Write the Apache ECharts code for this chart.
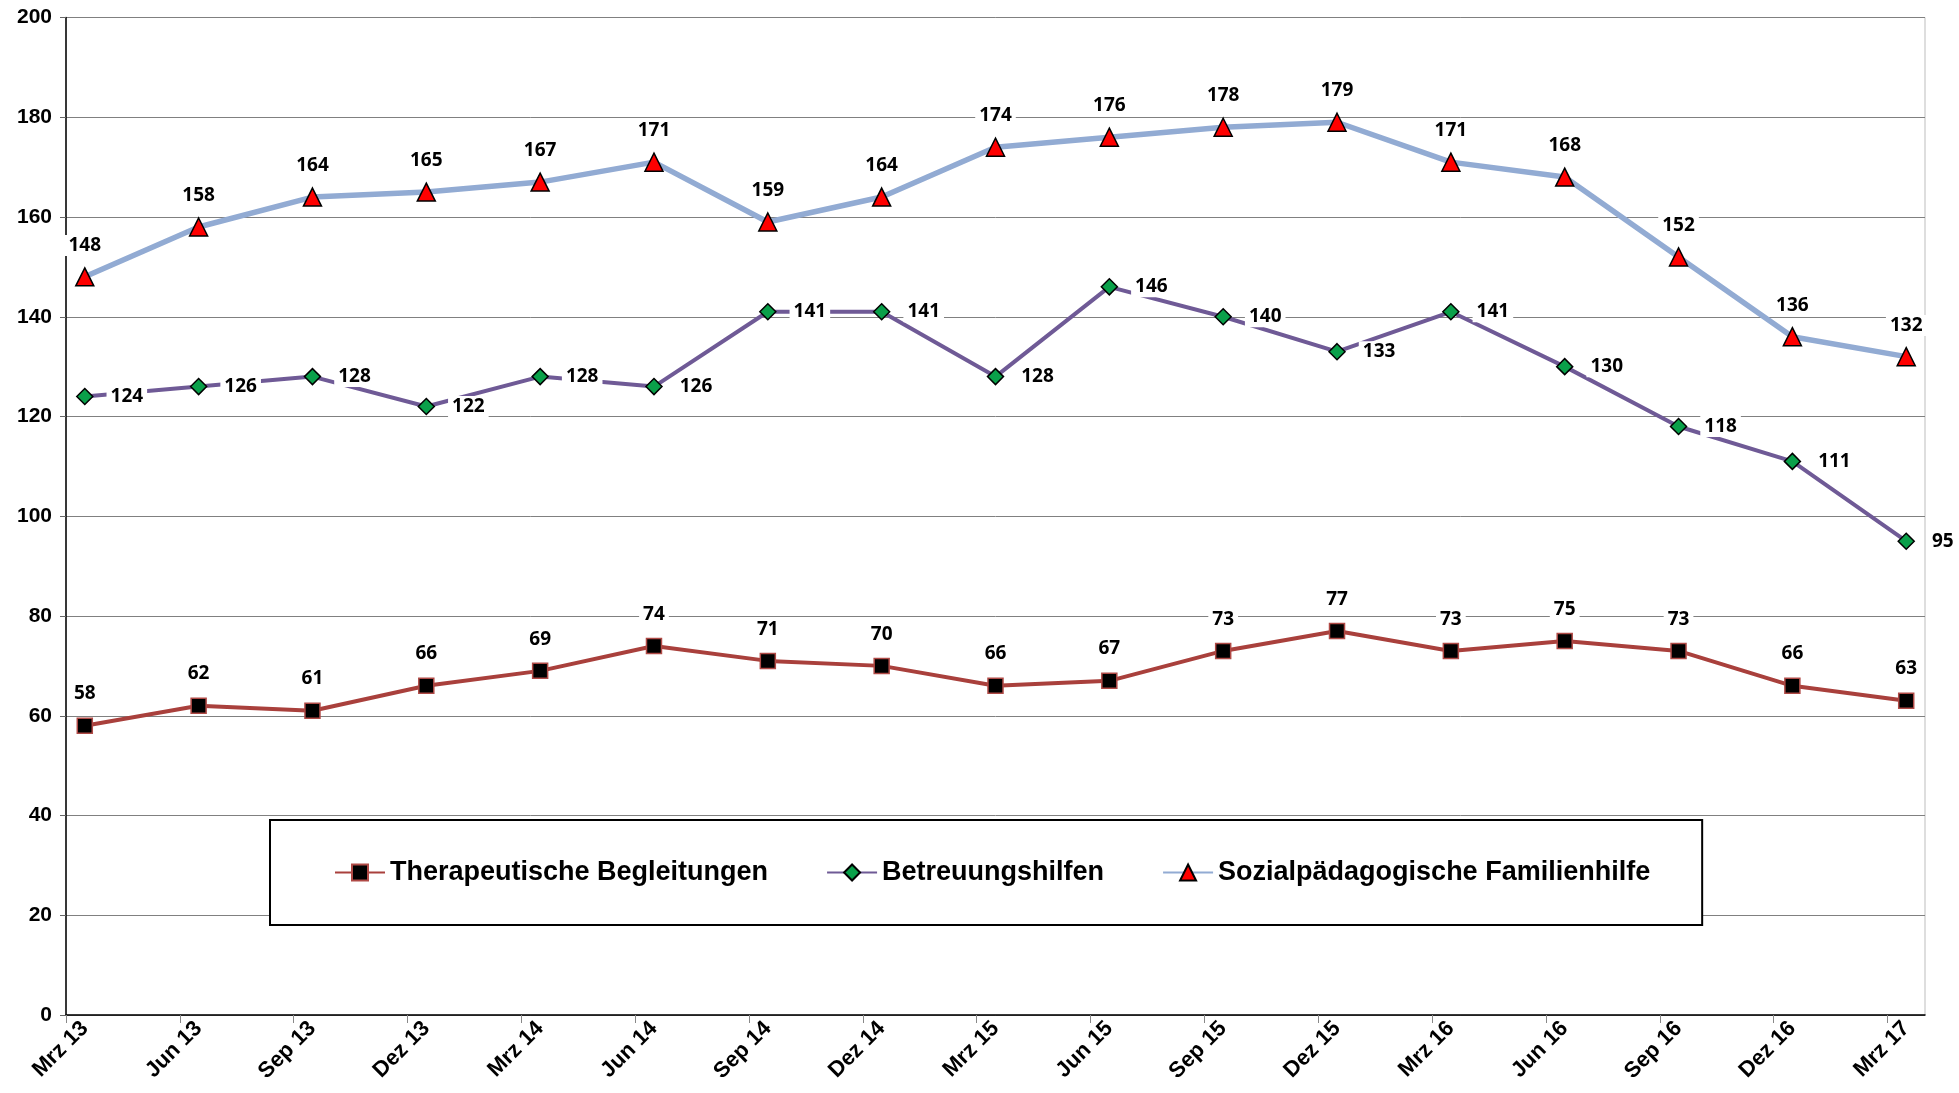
<!DOCTYPE html>
<html>
<head>
    <meta charset="utf-8">
    <title>Hilfen</title>
    <script src="https://cdn.jsdelivr.net/npm/echarts@6/dist/echarts.min.js"></script>
</head>
<body style="margin:0;background:#fff;">
<div id="main" style="width:1959px;height:1093px;"></div>
<script type="text/javascript">
    // Quartale
    var categories = ['Mrz 13', 'Jun 13', 'Sep 13', 'Dez 13', 'Mrz 14', 'Jun 14', 'Sep 14', 'Dez 14',
        'Mrz 15', 'Jun 15', 'Sep 15', 'Dez 15', 'Mrz 16', 'Jun 16', 'Sep 16', 'Dez 16', 'Mrz 17'];
    var therapeutisch = [58, 62, 61, 66, 69, 74, 71, 70, 66, 67, 73, 77, 73, 75, 73, 66, 63];
    var betreuung = [124, 126, 128, 122, 128, 126, 141, 141, 128, 146, 140, 133, 141, 130, 118, 111, 95];
    var sozial = [148, 158, 164, 165, 167, 171, 159, 164, 174, 176, 178, 179, 171, 168, 152, 136, 132];
    var yTicks = [0, 20, 40, 60, 80, 100, 120, 140, 160, 180, 200];

    var pad = 0.165;   // Abstand der Punkte vom Rand (in Kategorien)

    function pairs(arr) {
        return arr.map(function (v, i) { return [i, v]; });
    }

    var labelFont = {
        fontFamily: 'Open Sans',
        fontWeight: 'bold',
        fontSize: 19,
        color: '#000',
        backgroundColor: '#fff',
        padding: [1, 4]
    };

    var myChart = echarts.init(document.getElementById('main'));
    var option = {
        animation: false,
        backgroundColor: '#fff',
        grid: {
            left: 66,
            right: 34,
            top: 17.5,
            bottom: 78,
            show: true,
            borderColor: '#bdbdbd',
            borderWidth: 1
        },
        legend: {
            left: 270,
            top: 820,
            orient: 'horizontal',
            padding: [39, 52, 39, 64],
            itemGap: 58,
            itemWidth: 50,
            itemHeight: 20,
            borderColor: '#000',
            borderWidth: 2,
            backgroundColor: '#fff',
            textStyle: {
                fontFamily: 'Liberation Sans',
                fontWeight: 'bold',
                fontSize: 27,
                color: '#000'
            },
            data: ['Therapeutische Begleitungen', 'Betreuungshilfen', 'Sozialpädagogische Familienhilfe']
        },
        xAxis: {
            type: 'value',
            min: -pad,
            max: categories.length - 1 + pad,
            splitLine: {show: false},
            axisLine: {lineStyle: {color: '#000', width: 1.5}},
            axisTick: {
                show: true,
                length: 8,
                lineStyle: {color: '#888'},
                customValues: categories.map(function (c, i) { return i - pad; })
            },
            axisLabel: {
                rotate: 45,
                margin: 10,
                fontFamily: 'Liberation Sans',
                fontWeight: 'bold',
                fontSize: 22,
                color: '#000',
                customValues: categories.map(function (c, i) { return i; }),
                formatter: function (v) { return categories[Math.round(v)]; }
            }
        },
        yAxis: {
            type: 'value',
            min: yTicks[0],
            max: yTicks[yTicks.length - 1],
            interval: 20,
            axisLine: {show: true, onZero: false, lineStyle: {color: '#000', width: 1.5}},
            axisTick: {show: true, length: 6, lineStyle: {color: '#666'}},
            splitLine: {lineStyle: {color: '#808080', width: 1}},
            axisLabel: {
                margin: 14,
                fontFamily: 'Liberation Sans',
                fontWeight: 'bold',
                fontSize: 21,
                color: '#000'
            }
        },
        series: [
            {
                name: 'Therapeutische Begleitungen',
                type: 'line',
                data: pairs(therapeutisch),
                symbol: 'rect',
                symbolSize: 15,
                lineStyle: {color: '#a9403c', width: 4},
                itemStyle: {color: '#000', borderColor: '#b04a46', borderWidth: 1.5},
                label: Object.assign({show: true, position: 'top', distance: 13}, labelFont)
            },
            {
                name: 'Betreuungshilfen',
                type: 'line',
                data: pairs(betreuung),
                symbol: 'diamond',
                symbolSize: 16,
                lineStyle: {color: '#6f5a96', width: 4},
                itemStyle: {color: '#0aa04a', borderColor: '#000', borderWidth: 1.5},
                label: Object.assign({show: true, position: 'right', distance: 13}, labelFont)
            },
            {
                name: 'Sozialpädagogische Familienhilfe',
                type: 'line',
                data: pairs(sozial),
                symbol: 'triangle',
                symbolSize: 18,
                lineStyle: {color: '#92abd3', width: 5.5},
                itemStyle: {color: '#ff0000', borderColor: '#000', borderWidth: 1.5},
                label: Object.assign({show: true, position: 'top', distance: 11}, labelFont)
            }
        ]
    };
    myChart.setOption(option);
</script>
</body>
</html>
